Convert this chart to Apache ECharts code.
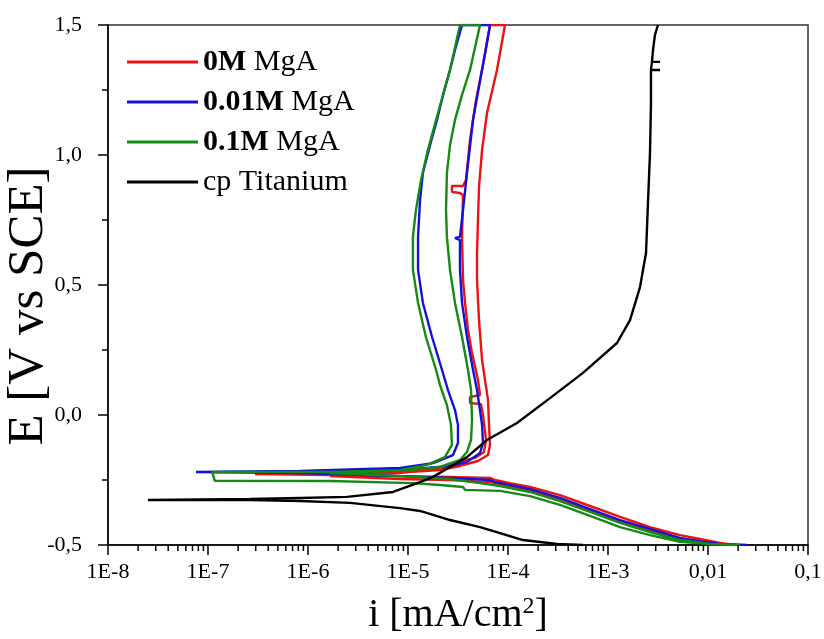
<!DOCTYPE html>
<html lang="en">
<head>
<meta charset="utf-8">
<title>Polarisation curves</title>
<script src="https://cdn.jsdelivr.net/npm/echarts@6/dist/echarts.min.js"></script>
<style>
    html, body { margin: 0; padding: 0; background: #fff; }
    #box { width: 824px; height: 639px; }
</style>
</head>
<body>
<div id="box"></div>
<script>
    // current density i [mA/cm2] and potential E [V vs SCE]
    // each curve: cathodic branch -> Ecorr -> anodic up -> back down
    var iRed = [1.86e-2, 1.32e-2, 8.32e-3, 5.25e-3, 2.63e-3, 1.32e-3, 6.61e-4, 3.31e-4, 1.66e-4, 1.05e-4, 7.41e-5, 6.61e-5, 2.63e-5, 8.32e-6, 1.66e-6, 2.95e-7,
        1.66e-6, 8.32e-6, 2.09e-5, 3.31e-5, 5.01e-5, 6.31e-5, 6.61e-5, 6.46e-5, 6.31e-5, 5.89e-5, 5.50e-5, 5.13e-5, 4.90e-5, 4.90e-5, 5.01e-5, 5.13e-5, 5.50e-5, 6.17e-5, 7.76e-5, 9.33e-5,
        6.61e-5, 5.75e-5, 4.79e-5, 4.17e-5, 3.80e-5, 3.55e-5, 2.75e-5, 2.75e-5, 3.31e-5, 3.55e-5, 3.47e-5, 3.55e-5, 3.72e-5, 3.98e-5, 4.37e-5, 5.01e-5, 5.25e-5, 4.17e-5, 4.17e-5, 5.37e-5, 5.62e-5, 6.03e-5, 5.75e-5, 4.68e-5, 3.16e-5, 2.09e-5, 8.32e-6, 1.66e-6,
        8.32e-6, 2.63e-5, 6.61e-5, 1.05e-4, 1.66e-4, 3.31e-4, 6.61e-4, 1.32e-3, 2.63e-3, 5.25e-3, 1.05e-2, 1.86e-2];
    var eRed = [-0.5, -0.492, -0.477, -0.462, -0.431, -0.392, -0.35, -0.308, -0.277, -0.262, -0.25, -0.242, -0.238, -0.235, -0.231, -0.227,
        -0.225, -0.221, -0.212, -0.196, -0.177, -0.154, -0.115, -0.038, 0.058, 0.135, 0.212, 0.365, 0.519, 0.623, 0.75, 0.877, 1.019, 1.162, 1.327, 1.5,
        1.5, 1.365, 1.212, 1.058, 0.904, 0.881, 0.881, 0.858, 0.854, 0.846, 0.685, 0.519, 0.431, 0.327, 0.238, 0.135, 0.077, 0.069, 0.046, 0.042, 0.0, -0.096, -0.142, -0.165, -0.181, -0.204, -0.223, -0.235,
        -0.246, -0.25, -0.258, -0.273, -0.292, -0.327, -0.365, -0.408, -0.446, -0.477, -0.496, -0.5];

    var iBlue = [2.45e-2, 1.32e-2, 8.32e-3, 5.25e-3, 2.63e-3, 1.32e-3, 6.61e-4, 3.31e-4, 1.66e-4, 1.05e-4, 7.41e-5, 6.61e-5, 2.63e-5, 8.32e-6, 8.32e-7, 7.59e-8,
        8.32e-7, 8.32e-6, 1.78e-5, 2.82e-5, 3.16e-5, 3.16e-5, 2.95e-5, 2.51e-5, 2.19e-5, 1.74e-5, 1.41e-5, 1.26e-5, 1.26e-5, 1.32e-5, 1.41e-5, 1.66e-5, 1.95e-5, 2.24e-5, 2.63e-5, 2.95e-5, 3.47e-5,
        6.61e-5, 5.50e-5, 4.47e-5, 3.89e-5, 3.55e-5, 3.31e-5, 2.95e-5, 3.31e-5, 3.31e-5, 3.47e-5, 3.89e-5, 4.47e-5, 4.90e-5, 5.25e-5, 5.50e-5, 5.62e-5, 5.25e-5, 3.89e-5, 2.63e-5, 8.32e-6, 1.66e-6];
    var eBlue = [-0.5, -0.496, -0.485, -0.473, -0.438, -0.404, -0.362, -0.319, -0.285, -0.269, -0.258, -0.25, -0.242, -0.235, -0.223, -0.219,
        -0.215, -0.204, -0.185, -0.154, -0.108, -0.038, 0.019, 0.096, 0.173, 0.300, 0.431, 0.558, 0.685, 0.827, 0.931, 1.038, 1.135, 1.231, 1.327, 1.404, 1.5,
        1.5, 1.327, 1.135, 0.931, 0.788, 0.685, 0.681, 0.673, 0.558, 0.431, 0.300, 0.173, 0.096, 0.019, -0.038, -0.108, -0.146, -0.181, -0.196, -0.212, -0.219];

    var iGreen = [2.09e-2, 1.05e-2, 5.25e-3, 2.63e-3, 1.32e-3, 6.61e-4, 3.31e-4, 1.66e-4, 8.32e-5, 3.72e-5, 3.55e-5, 2.09e-5, 1.12e-5, 1.66e-6, 1.17e-7, 1.10e-7,
        1.66e-6, 8.32e-6, 1.55e-5, 2.34e-5, 2.75e-5, 2.69e-5, 2.45e-5, 2.09e-5, 1.91e-5, 1.51e-5, 1.26e-5, 1.12e-5, 1.12e-5, 1.20e-5, 1.35e-5, 1.58e-5, 1.91e-5, 2.63e-5, 3.31e-5,
        5.25e-5, 4.17e-5, 3.47e-5, 2.95e-5, 2.63e-5, 2.45e-5, 2.40e-5, 2.45e-5, 2.63e-5, 2.95e-5, 3.47e-5, 3.98e-5, 4.27e-5, 4.37e-5, 4.27e-5, 3.89e-5, 3.31e-5, 2.09e-5, 8.32e-6, 1.66e-6,
        8.32e-6, 2.63e-5, 5.25e-5, 8.32e-5, 1.66e-4, 3.31e-4, 6.61e-4, 1.32e-3, 2.63e-3, 5.25e-3, 1.05e-2, 2.09e-2];
    var eGreen = [-0.5, -0.496, -0.488, -0.462, -0.431, -0.388, -0.346, -0.312, -0.292, -0.288, -0.277, -0.269, -0.262, -0.254, -0.253, -0.219,
        -0.219, -0.212, -0.192, -0.162, -0.115, -0.038, 0.038, 0.115, 0.173, 0.300, 0.431, 0.558, 0.685, 0.788, 0.904, 1.019, 1.135, 1.327, 1.5,
        1.5, 1.327, 1.231, 1.135, 1.038, 0.931, 0.788, 0.685, 0.558, 0.431, 0.300, 0.173, 0.096, -0.019, -0.096, -0.142, -0.173, -0.2, -0.215, -0.223,
        -0.235, -0.246, -0.262, -0.273, -0.296, -0.331, -0.373, -0.415, -0.45, -0.481, -0.496, -0.5];

    var iTi = [5.62e-4, 3.09e-4, 1.41e-4, 8.32e-5, 5.25e-5, 2.63e-5, 1.32e-5, 8.32e-6, 2.63e-6, 8.32e-7, 2.63e-7, 2.51e-8,
        2.63e-7, 8.32e-7, 2.45e-6, 7.08e-6, 1.32e-5, 1.78e-5, 2.63e-5, 3.89e-5, 6.17e-5, 1.23e-4, 2.63e-4, 5.62e-4, 1.23e-3, 1.66e-3, 2.09e-3, 2.40e-3, 2.51e-3, 2.63e-3, 2.69e-3, 2.69e-3, 3.31e-3, 2.69e-3, 2.75e-3, 3.31e-3, 2.75e-3, 2.82e-3, 2.95e-3, 3.16e-3];
    var eTi = [-0.5, -0.496, -0.481, -0.454, -0.431, -0.404, -0.369, -0.358, -0.338, -0.331, -0.327, -0.327,
        -0.323, -0.319, -0.315, -0.296, -0.258, -0.238, -0.2, -0.162, -0.096, -0.031, 0.065, 0.162, 0.277, 0.365, 0.492, 0.623, 0.815, 1.008, 1.2, 1.327, 1.327, 1.327, 1.358, 1.358, 1.358, 1.404, 1.462, 1.5];

    var seriesNames = ['0M MgA', '0.01M MgA', '0.1M MgA', 'cp Titanium'];
    var seriesColors = ['#ee1111', '#1111dd', '#158a15', '#000000'];
    var xTickLabels = ['1E-8', '1E-7', '1E-6', '1E-5', '1E-4', '1E-3', '0,01', '0,1'];

    // log minor ticks 2..9 in every decade
    var xMinorTicks = [];
    for (var d = -8; d < -1; d++) {
        for (var m = 2; m < 10; m++) {
            xMinorTicks.push([m * Math.pow(10, d), -0.5]);
        }
    }

    function pairs(xs, ys) {
        var out = [];
        for (var k = 0; k < xs.length; k++) out.push([xs[k], ys[k]]);
        return out;
    }

    var font = 'Liberation Serif';
    var curves = [pairs(iRed, eRed), pairs(iBlue, eBlue), pairs(iGreen, eGreen), pairs(iTi, eTi)];

    var series = curves.map(function (c, k) {
        return {
            name: seriesNames[k],
            type: 'line',
            data: c,
            symbol: 'none',
            showSymbol: false,
            color: seriesColors[k],
            lineStyle: { width: 2.4, color: seriesColors[k] },
            animation: false
        };
    });

    series.push({
        type: 'custom',
        name: 'minor',
        silent: true,
        clip: false,
        z: 10,
        data: xMinorTicks,
        encode: { x: 0, y: 1 },
        renderItem: function (params, api) {
            var p = api.coord([api.value(0), api.value(1)]);
            return {
                type: 'line',
                shape: { x1: p[0], y1: p[1], x2: p[0], y2: p[1] + 6 },
                style: { stroke: '#000', lineWidth: 1.5 }
            };
        },
        animation: false
    });

    var myChart = echarts.init(document.getElementById('box'));
    var option = {
        backgroundColor: '#fff',
        animation: false,
        grid: {
            left: 108, right: 16, top: 25, bottom: 94,
            show: true, borderColor: '#333', borderWidth: 1.5,
            containLabel: false, outerBoundsMode: 'none'
        },
        legend: {
            data: seriesNames,
            orient: 'vertical',
            left: 127,
            top: 47,
            padding: 0,
            icon: 'rect',
            itemWidth: 71,
            itemHeight: 3,
            itemGap: 10,
            textStyle: {
                fontFamily: font, fontSize: 30, color: '#000', lineHeight: 30,
                rich: {
                    b: { fontFamily: font, fontSize: 30, fontWeight: 'bold', color: '#000' },
                    n: { fontFamily: font, fontSize: 30, color: '#000' }
                }
            },
            formatter: function (name) {
                var parts = name.split(' ');
                if (parts[1] === 'MgA') return '{b|' + parts[0] + '} {n|MgA}';
                return '{n|' + name + '}';
            }
        },
        xAxis: {
            type: 'log',
            logBase: 10,
            min: 1e-8,
            max: 0.1,
            name: 'i [mA/cm{sup|2}]',
            nameLocation: 'middle',
            nameGap: 50,
            nameMoveOverlap: false,
            nameTextStyle: {
                fontFamily: font, fontSize: 40, color: '#000',
                rich: {
                    sup: { fontFamily: font, fontSize: 24, color: '#000', verticalAlign: 'top', lineHeight: 40 }
                }
            },
            axisLine: { onZero: false, lineStyle: { color: '#000', width: 1.5 } },
            axisTick: { show: true, length: 10, lineStyle: { color: '#000', width: 1.5 } },
            splitLine: { show: false },
            axisLabel: {
                margin: 16,
                fontFamily: font, fontSize: 22, color: '#000',
                formatter: function (v) {
                    return xTickLabels[Math.round(Math.log10(v)) + 8];
                }
            }
        },
        yAxis: {
            type: 'value',
            min: -0.5,
            max: 1.5,
            interval: 0.5,
            name: 'E [V vs SCE]',
            nameLocation: 'middle',
            nameGap: 54,
            nameMoveOverlap: false,
            nameTextStyle: { fontFamily: font, fontSize: 51, color: '#000', padding: [0, 42, 0, 0] },
            axisLine: { show: true, onZero: false, lineStyle: { color: '#000', width: 1.5 } },
            axisTick: { show: true, length: 10, lineStyle: { color: '#000', width: 1.5 } },
            minorTick: { show: true, splitNumber: 2, length: 6, lineStyle: { color: '#000', width: 1.5 } },
            splitLine: { show: false },
            minorSplitLine: { show: false },
            axisLabel: {
                margin: 26,
                fontFamily: font, fontSize: 22, color: '#000',
                formatter: function (v) {
                    return v.toFixed(1).replace('.', ',');
                }
            }
        },
        series: series
    };
    myChart.setOption(option);
</script>
</body>
</html>
